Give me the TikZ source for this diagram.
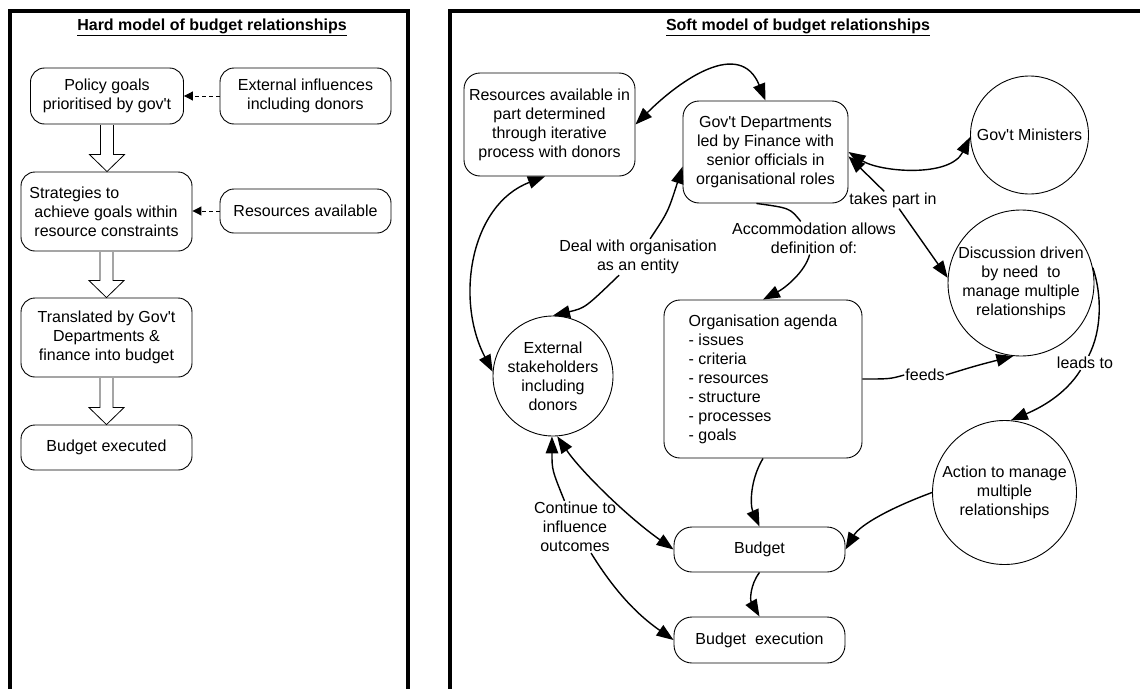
\documentclass[tikz,border=0pt]{standalone}
\usepackage{fontspec}
\setmainfont{Liberation Sans}[Ligatures=TeXOff]
\usetikzlibrary{arrows.meta,calc,shapes.geometric}
\begin{document}
\begin{tikzpicture}[x=1pt,y=-1pt,
  every node/.style={font=\fontsize{16}{19}\selectfont},
  rbox/.style={draw, line width=0.9pt, rounded corners=14pt, align=center, inner sep=2pt},
  circ/.style={draw, line width=0.9pt, circle, align=center, inner sep=0pt},
  lbl/.style={fill=white, align=center, inner sep=1pt},
  con/.style={line width=1.4pt, >={Triangle[length=17pt,width=12.5pt]}},
  dsh/.style={line width=1pt, dash pattern=on 4pt off 3pt, >={Triangle[length=9pt,width=9pt]}},
  frame/.style={line width=4pt},
  hol/.style={line width=0.8pt, fill=white}
]
\useasboundingbox (0,0) rectangle (1140,688);
\begin{scope}
\clip (0,0) rectangle (1140,688);
\draw[frame] (10,700) -- (10,11) -- (408,11) -- (408,700);
\draw[frame] (450,700) -- (450,11) -- (1150,11);
\end{scope}

% ---------- hard model ----------
\node (thard) at (212,27) {\bfseries\underline{Hard model of budget relationships}};
\node[rbox, minimum width=153, minimum height=56] (pol) at (107,96) {Policy goals\\prioritised by gov't};
\node[rbox, minimum width=171, minimum height=56] (ext) at (305.5,96) {External influences\\including donors};
\node[rbox, minimum width=171, minimum height=79, align=left] (str) at (106.5,211.5) {\hspace*{-5pt}Strategies to\\achieve goals within\\resource constraints};
\node[rbox, minimum width=171, minimum height=44] (res) at (305.5,211) {Resources available};
\node[rbox, minimum width=171, minimum height=79] (tra) at (106.5,337.5) {Translated by Gov't\\Departments \&\\finance into budget};
\node[rbox, minimum width=171, minimum height=45] (bex) at (106.5,447.5) {Budget executed};

\draw[dsh,->] (ext.west) -- (pol.east);
\draw[dsh,->] (res.west) -- (str.east |- res.west);

\foreach \a/\b in {pol/str,str/tra,tra/bex}
  \draw[hol] let \p1=(\a.south), \p2=(\b.north) in
    (\x1-6.5pt,\y1-0.6pt) -- (\x1-6.5pt,\y2+17pt) -- (\x1-17.5pt,\y2+17pt) -- (\x1,\y2)
    -- (\x1+17.5pt,\y2+17pt) -- (\x1+6.5pt,\y2+17pt) -- (\x1+6.5pt,\y1-0.6pt);

% ---------- soft model ----------
\node (tsoft) at (798,27) {\bfseries\underline{Soft model of budget relationships}};
\node[rbox, minimum width=171, minimum height=103, rounded corners=16pt] (resav) at (549.5,124.5) {Resources available in\\part determined\\through iterative\\process with donors};
\node[rbox, minimum width=165, minimum height=102, rounded corners=16pt] (gd) at (765.5,152) {Gov't Departments\\led by Finance with\\senior officials in\\organisational roles};
\node[circ, minimum size=118] (min) at (1029.5,135) {Gov't Ministers};
\node[circ, minimum size=146] (disc) at (1021,283) {Discussion driven\\by need\ \ to\\manage multiple\\relationships};
\node[rbox, minimum width=198, minimum height=158, align=left, rounded corners=16pt] (org) at (763,379) {Organisation agenda\\- issues\\- criteria\\- resources\\- structure\\- processes\\- goals};
\node[circ, minimum size=120] (est) at (553,376) {External\\stakeholders\\including\\donors};
\node[rbox, minimum width=171, minimum height=45, rounded corners=18pt] (bud) at (759.5,549.5) {Budget};
\node[rbox, minimum width=171, minimum height=46, rounded corners=18pt] (bexe) at (759.5,640) {Budget\ \ execution};
\node[circ, minimum size=144] (act) at (1004.5,492.5) {Action to manage\\multiple\\relationships};

\node[lbl] (lacc) at (814,238) {Accommodation allows\\definition of:};
\node[lbl] (ldeal) at (638,257) {Deal with organisation\\as an entity};
\node[lbl] (ltake) at (893,200) {takes part in};
\node[lbl] (lfeeds) at (925,375) {feeds};
\node[lbl] (lleads) at (1085,363) {leads to};
\node[lbl] (lcont) at (575,527) {Continue to\\influence\\outcomes};

\draw[con,<->] (resav.east) .. controls (680,80) and (740,38) .. (gd.north);
\draw[con,<->] (gd.east) .. controls (880,172) and (950,178) .. (min.182);
\draw[con,->] (ltake) -- (gd.-3);
\draw[con,->] (ltake) -- (disc.176);
\draw[con] (gd.-100) .. controls (790,208) .. (lacc);
\draw[con,->] (lacc) .. controls (805,272) and (785,288) .. (org.north);
\draw[con,->] (ldeal) .. controls (668,212) .. (gd.190);
\draw[con,->] (ldeal) .. controls (585,308) .. (est.north);
\draw[con,<->] (resav.-95) .. controls (470,205) and (455,300) .. (est.176);
\draw[con] (org.east) .. controls (890,379) .. (lfeeds.west);
\draw[con,->] (lfeeds.east) .. controls (975,366) .. (disc.-96);
\draw[con] (disc.12) .. controls (1102,295) and (1102,330) .. (lleads);
\draw[con,->] (lleads) .. controls (1065,395) and (1040,408) .. (act.85);
\draw[con,->] (act.west) .. controls (890,508) and (860,525) .. (bud.east);
\draw[con,->] (org.south) .. controls (750,480) and (750,505) .. (bud.north);
\draw[con,->] (bud.south) .. controls (750,585) and (750,600) .. (bexe.north);
\draw[con,<->] (est.-86) .. controls (580,470) and (625,515) .. (bud.west);
\draw[con,->] (lcont) .. controls (552,470) .. (est.-91);
\draw[con,->] (lcont) .. controls (620,600) and (645,620) .. (bexe.west);
\end{tikzpicture}
\end{document}
